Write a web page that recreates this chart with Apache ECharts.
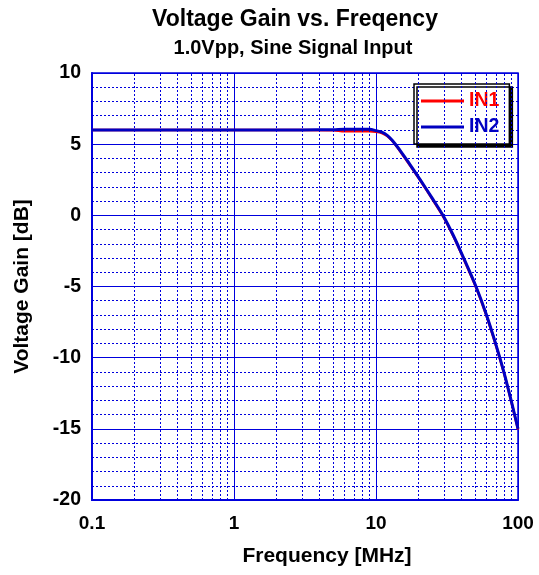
<!DOCTYPE html>
<html>
<head>
<meta charset="utf-8">
<script src="https://cdn.jsdelivr.net/npm/echarts@6/dist/echarts.min.js"></script>
<style>
    html, body { margin: 0; padding: 0; background: #fff; }
    #chart { width: 539px; height: 575px; }
</style>
</head>
<body>
<div id="chart"></div>
<script>
/* ===================== data ===================== */
// frequency [MHz]
var freq = [0.1, 0.5, 1, 3, 5, 6, 7, 8, 9, 10, 11, 12, 13, 14, 14.8, 16, 17.4, 20.4, 25, 29.6, 35, 41, 50.6, 59.5, 70, 80, 90, 100];
// voltage gain [dB]
var in1 = [6.0, 6.0, 6.0, 6.0, 5.98, 5.9, 5.9, 5.9, 5.9, 5.87, 5.78, 5.57, 5.24, 4.83, 4.5, 4.02, 3.5, 2.48, 1.12, -0.05, -1.45, -2.95, -5.05, -6.95, -9.15, -11.15, -13.15, -15.05];
var in2 = [6.0, 6.0, 6.0, 6.0, 6.02, 6.05, 6.05, 6.05, 6.04, 5.95, 5.84, 5.62, 5.28, 4.87, 4.55, 4.07, 3.55, 2.53, 1.17, 0, -1.4, -2.9, -5.0, -6.9, -9.1, -11.1, -13.1, -15.0];
// x tick labels
var xTicks = ['0.1', '1', '10', '100'];
// minor x grid (2..9 in each decade)
var decades = [0.1, 1, 10];
var minorSteps = [2, 3, 4, 5, 6, 7, 8, 9];
/* ===================== end ===================== */

var gridBlue = '#0000dd';
var fontFamily = '"Liberation Sans", Arial, sans-serif';

function pairs(xs, ys) {
    return xs.map(function (x, i) { return [x, ys[i]]; });
}

var minorLines = [];
decades.forEach(function (d) {
    minorSteps.forEach(function (s) {
        minorLines.push({ xAxis: +(d * s).toPrecision(3) });
    });
});

var chart = echarts.init(document.getElementById('chart'), null, { renderer: 'canvas' });

chart.setOption({
    animation: false,
    textStyle: { fontFamily: fontFamily },
    title: [{
        text: 'Voltage Gain vs. Freqency',
        left: 290,
        textAlign: 'center',
        top: 3,
        textStyle: { fontSize: 23, fontWeight: 'bold', color: '#000', fontFamily: fontFamily }
    }, {
        text: '1.0Vpp, Sine Signal Input',
        left: 288,
        textAlign: 'center',
        top: 33,
        textStyle: { fontSize: 20, fontWeight: 'bold', color: '#000', fontFamily: fontFamily }
    }],
    legend: {
        orient: 'vertical',
        left: 414,
        top: 84,
        padding: [7, 10, 7, 7],
        itemGap: 6,
        itemWidth: 43,
        itemHeight: 3,
        icon: 'rect',
        backgroundColor: '#fff',
        borderColor: '#000',
        borderWidth: 1.5,
        borderRadius: 0,
        shadowColor: '#000',
        shadowBlur: 0,
        shadowOffsetX: 3,
        shadowOffsetY: 3,
        textStyle: { fontSize: 19.5, fontWeight: 'bold', fontFamily: fontFamily },
        data: [
            { name: 'IN1', textStyle: { color: '#ff0000' } },
            { name: 'IN2', textStyle: { color: '#0000c0' } }
        ]
    },
    grid: {
        left: 92,
        right: 21,
        top: 73,
        bottom: 75,
        show: true,
        borderColor: gridBlue,
        borderWidth: 1.5,
        backgroundColor: '#fff'
    },
    xAxis: {
        type: 'log',
        logBase: 10,
        min: 0.1,
        max: 100,
        name: 'Frequency [MHz]',
        nameLocation: 'middle',
        nameGap: 46,
        nameTextStyle: { fontSize: 21, fontWeight: 'bold', color: '#000', padding: [0, 0, 0, 44] },
        axisLine: { onZero: false, lineStyle: { color: gridBlue, width: 2 } },
        axisTick: { show: false },
        axisLabel: {
            fontSize: 19,
            fontWeight: 'bold',
            color: '#000',
            margin: 14,
            formatter: function (v) {
                var s = +v.toPrecision(3);
                return xTicks.indexOf(String(s)) >= 0 ? String(s) : '';
            }
        },
        splitLine: { show: true, lineStyle: { color: gridBlue, width: 1 } }
    },
    yAxis: {
        type: 'value',
        min: -20,
        max: 10,
        interval: 5,
        name: 'Voltage Gain [dB]',
        nameLocation: 'middle',
        nameGap: 59,
        nameTextStyle: { fontSize: 21, fontWeight: 'bold', color: '#000' },
        axisLine: { show: true, onZero: false, lineStyle: { color: gridBlue, width: 2 } },
        axisTick: { show: false },
        axisLabel: { fontSize: 19.5, fontWeight: 'bold', color: '#000', margin: 11 },
        splitLine: { show: true, lineStyle: { color: gridBlue, width: 1 } },
        minorTick: { show: false, splitNumber: 5 },
        minorSplitLine: { show: true, lineStyle: { color: gridBlue, width: 1, type: [2, 2] } }
    },
    series: [{
        // minor x grid lines
        name: 'grid',
        type: 'line',
        data: [],
        silent: true,
        markLine: {
            silent: true,
            symbol: 'none',
            label: { show: false },
            lineStyle: { color: gridBlue, width: 1, type: [2, 2] },
            data: minorLines
        }
    }, {
        name: 'IN1',
        type: 'line',
        data: pairs(freq, in1),
        smooth: 0.3,
        showSymbol: false,
        color: '#ff0000',
        lineStyle: { width: 2.5, color: '#ff0000' }
    }, {
        name: 'IN2',
        type: 'line',
        data: pairs(freq, in2),
        smooth: 0.3,
        showSymbol: false,
        color: '#0000c0',
        lineStyle: { width: 3, color: '#0000c0' }
    }]
});
</script>
</body>
</html>
